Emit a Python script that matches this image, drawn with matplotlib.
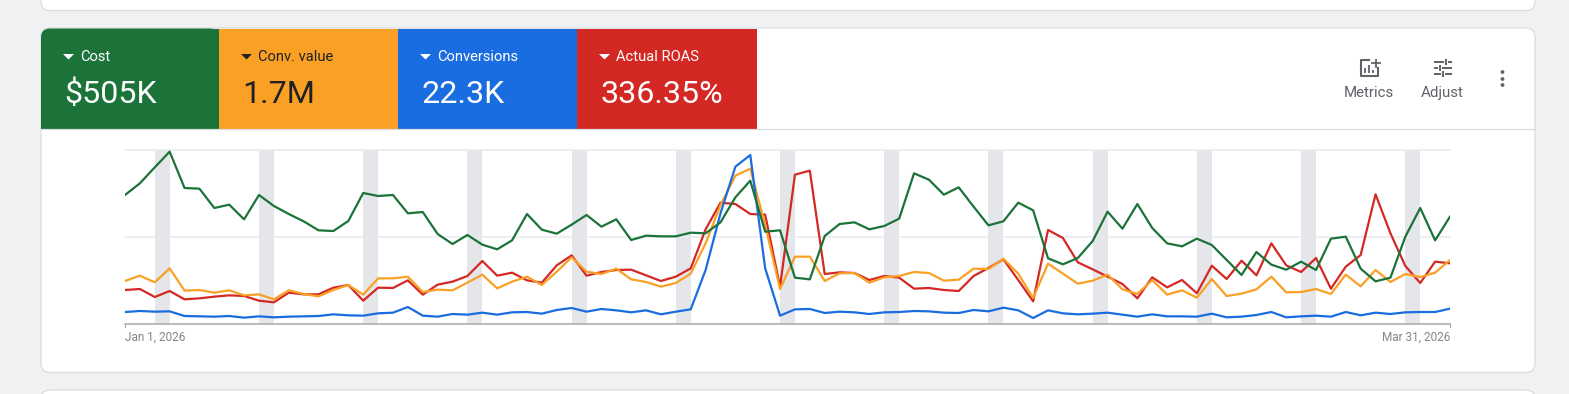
import matplotlib
matplotlib.use("Agg")
import matplotlib.pyplot as plt
from matplotlib.patches import FancyBboxPatch, Polygon, Rectangle, Circle

plt.rcParams["font.family"] = ["Roboto", "DejaVu Sans"]

W, H = 1569, 394
DPI = 100

# relative heights, one per day, Jan 1 to Mar 31 2026
cost = [387, 422, 470, 517, 408, 406, 348, 358, 314, 387, 354, 330, 308, 281, 279, 309, 393, 384,
        387, 332, 336, 270, 240, 267, 238, 224, 251, 330, 283, 271, 298, 327, 292, 314, 252, 265,
        263, 263, 274, 272, 305, 380, 430, 277, 281, 139, 134, 264, 300, 305, 284, 294, 316, 452,
        433, 388, 410, 352, 296, 308, 364, 341, 197, 179, 198, 249, 337, 286, 360, 288, 242, 233,
        256, 237, 192, 147, 216, 178, 163, 187, 162, 256, 262, 166, 128, 139, 262, 348, 251, 322]
conv_value = [129, 145, 125, 167, 100, 102, 94, 101, 86, 89, 74, 101, 90, 83, 102, 117, 88, 137,
              137, 142, 96, 103, 101, 124, 148, 107, 127, 142, 117, 157, 200, 157, 150, 166, 134, 126,
              112, 123, 151, 242, 357, 445, 466, 297, 105, 202, 202, 129, 152, 153, 124, 140, 144, 156,
              153, 130, 133, 166, 165, 196, 151, 78, 181, 151, 121, 130, 148, 104, 90, 132, 88, 101,
              79, 135, 84, 91, 104, 142, 95, 96, 105, 90, 148, 113, 162, 126, 150, 141, 154, 192]
conversions = [36, 39, 37, 38, 24, 23, 22, 24, 19, 23, 20, 22, 23, 24, 29, 26, 25, 32,
               34, 51, 25, 22, 30, 28, 34, 28, 35, 36, 31, 42, 48, 37, 45, 41, 35, 41,
               29, 37, 44, 162, 332, 472, 507, 167, 25, 44, 45, 33, 37, 35, 30, 35, 36, 39,
               38, 34, 33, 42, 38, 49, 41, 18, 41, 32, 29, 31, 34, 28, 22, 29, 23, 23,
               22, 31, 20, 22, 27, 36, 20, 23, 25, 22, 36, 26, 34, 30, 35, 36, 36, 46]
roas = [102, 105, 81, 99, 74, 77, 82, 86, 84, 70, 65, 94, 89, 89, 109, 117, 70, 109,
        108, 131, 88, 118, 127, 144, 189, 145, 154, 131, 124, 176, 206, 145, 156, 162, 163, 146,
        129, 142, 167, 284, 364, 360, 330, 328, 112, 448, 460, 150, 155, 153, 132, 144, 139, 106,
        108, 102, 99, 144, 168, 194, 132, 68, 282, 258, 185, 164, 142, 120, 77, 140, 110, 132,
        92, 175, 135, 190, 146, 242, 176, 156, 198, 106, 172, 207, 389, 272, 174, 123, 187, 182]

tab_labels = ["Cost", "Conv. value", "Conversions", "Actual ROAS"]
tab_values = ["$505K", "1.7M", "22.3K", "336.35%"]
tab_edges = [41, 219, 398, 577, 757]
tab_colors = ["#1b7339", "#f9a025", "#1a6de0", "#d32823"]
tab_text = ["white", "#202124", "white", "white"]

weekend_starts = list(range(2, 89, 7))
y_grid = [261, 522]
date_labels = ["Jan 1, 2026", "Mar 31, 2026"]

fig = plt.figure(figsize=(W / DPI, H / DPI), dpi=DPI, facecolor="#f0f1f3")

# page furniture, in pixel coordinates
bg = fig.add_axes([0, 0, 1, 1])
bg.set_xlim(0, W)
bg.set_ylim(H, 0)
bg.axis("off")


def card(y0, y1):
    bg.add_patch(FancyBboxPatch((41, y0), 1494, y1 - y0, boxstyle="round,pad=0,rounding_size=9",
                                fc="white", ec="#dadce0", lw=0.9))


card(-30, 10.5)
card(28, 372.5)
card(390, 430)

for i, label in enumerate(tab_labels):
    x0, x1 = tab_edges[i], tab_edges[i + 1]
    if i == 0:
        bg.add_patch(FancyBboxPatch((x0, 28.5), x1 - x0, 100, boxstyle="round,pad=0,rounding_size=9",
                                    fc=tab_colors[i], ec="none"))
        bg.add_patch(Rectangle((x0, 60), x1 - x0, 68.5, fc=tab_colors[i], ec="none"))
        bg.add_patch(Rectangle((x0 + 20, 28.5), x1 - x0 - 20, 60, fc=tab_colors[i], ec="none"))
    else:
        bg.add_patch(Rectangle((x0, 28.5), x1 - x0, 100, fc=tab_colors[i], ec="none"))
    bg.add_patch(Polygon([(x0 + 22, 54), (x0 + 33, 54), (x0 + 27.5, 59.5)], fc=tab_text[i], ec="none"))
    bg.text(x0 + 39, 57, label, color=tab_text[i], fontsize=10.6, va="center", ha="left")
    bg.text(x0 + 23.5, 94, tab_values[i], color=tab_text[i], fontsize=23.2, va="center", ha="left")

bg.plot([41, 1535], [129, 129], color="#dadce0", lw=0.9, solid_capstyle="butt")

# Metrics icon
icon = "#5f6368"
bg.plot([1369, 1361, 1361, 1378, 1378], [60, 60, 76, 76, 68], color=icon, lw=1.5, solid_joinstyle="round")
for x, y in [(1365, 68), (1369, 65), (1373, 70)]:
    bg.plot([x, x], [y, 73], color=icon, lw=1.3, solid_capstyle="butt")
bg.plot([1372, 1380], [63, 63], color=icon, lw=1.3)
bg.plot([1376, 1376], [59.5, 66.5], color=icon, lw=1.3)

# Adjust icon
for y, xa, xb, xm in [(62, 1434, 1452, 1446), (68, 1434, 1452, 1440), (74, 1434, 1452, 1443)]:
    bg.plot([xa, xm - 2], [y, y], color=icon, lw=1.4, solid_capstyle="butt")
    bg.plot([xm + 2, xb], [y, y], color=icon, lw=1.4, solid_capstyle="butt")
    bg.plot([xm, xm], [y - 3, y + 3], color=icon, lw=1.4, solid_capstyle="butt")

for y in [72, 79, 85]:
    bg.add_patch(Circle((1502.5, y), 1.9, fc=icon, ec="none"))

bg.text(1369, 93, "Metrics", color=icon, fontsize=10.8, ha="center", va="center")
bg.text(1442, 93, "Adjust", color=icon, fontsize=10.8, ha="center", va="center")

bg.text(125, 337.5, date_labels[0], color="#80868b", fontsize=8.5, ha="left", va="center")
bg.text(1450, 337.5, date_labels[1], color="#80868b", fontsize=8.5, ha="right", va="center")
bg.plot([125, 125], [324, 327], color="#a8a8a8", lw=0.8)
bg.plot([1450, 1450], [324, 327], color="#a8a8a8", lw=0.8)

# chart itself
ax = fig.add_axes([125 / W, (H - 324) / H, 1325 / W, 174 / H])
ax.patch.set_alpha(0)
days = list(range(len(cost)))
ax.set_xlim(0, len(cost) - 1)
ax.set_ylim(0, 522)
for s in ["top", "right", "left"]:
    ax.spines[s].set_visible(False)
ax.spines["bottom"].set_color("#a8a8a8")
ax.spines["bottom"].set_linewidth(1.1)
ax.set_xticks([])
ax.set_yticks([])

for d in weekend_starts:
    ax.axvspan(d, d + 1, color="#e4e6ea", lw=0, zorder=1)
for y in y_grid:
    ax.axhline(y, color="#e8eaed", lw=1.1, zorder=2, clip_on=False)

ax.plot(days, roas, color="#d32823", lw=1.6, zorder=3)
ax.plot(days, conv_value, color="#f9a025", lw=1.6, zorder=4)
ax.plot(days, conversions, color="#1a6de0", lw=1.6, zorder=5)
ax.plot(days, cost, color="#1b7339", lw=1.6, zorder=6)

fig.savefig("out.png", dpi=DPI, facecolor=fig.get_facecolor())
